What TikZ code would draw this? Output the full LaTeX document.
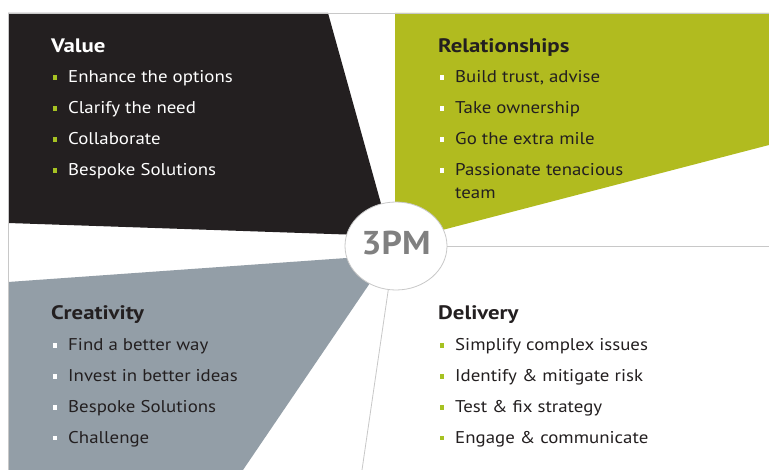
\documentclass[tikz,border=0pt]{standalone}
\usepackage{fontspec}
\setmainfont{PT Sans}
\newfontfamily\itmfont{PT Sans}[FakeStretch=1.11]
\newfontfamily\ttlfont{PT Sans}[FakeStretch=1.17]
\newfontfamily\pmfont{PT Sans}[FakeStretch=1.08]
\usetikzlibrary{shapes.geometric}
\definecolor{qblack}{HTML}{231F20}
\definecolor{qgreen}{HTML}{B1BB1F}
\definecolor{qgray}{HTML}{939EA7}
\definecolor{bgreen}{HTML}{A6C222}
\definecolor{frame}{HTML}{C8C8C8}
\definecolor{pmgray}{HTML}{808080}
\begin{document}
\begin{tikzpicture}[x=1pt,y=-1pt,
  frameline/.style={draw=frame,line width=0.8pt},
  ttl/.style={anchor=base west,inner sep=0,font=\ttlfont\fontsize{19.5}{22}\selectfont\bfseries},
  itm/.style={anchor=base west,inner sep=0,font=\itmfont\fontsize{17}{20}\selectfont},
  bul/.style={rectangle,minimum size=4.8pt,inner sep=0,fill=#1},
  ]
\useasboundingbox (0,0) rectangle (769,470);
\fill[white] (0,0) rectangle (769,470);
% quadrants
\fill[qblack] (8,13) -- (328,13) -- (390,236) -- (8,223) -- cycle;
\fill[qgreen] (395,13) -- (769,13) -- (769,145) -- (400,241) -- (395,241) -- cycle;
\fill[qgray] (8,282) -- (389,255) -- (243,470) -- (8,470) -- cycle;
% frame lines
\coordinate (ftl) at (8,13);
\coordinate (ftr) at (769,13);
\coordinate (fbl) at (8,470);
\coordinate (rend) at (769,246);
\coordinate (bend) at (362,470);
\draw[frameline] (fbl) -- (ftl) -- (ftr);
% centre
\node[ellipse,draw=frame,line width=0.8pt,fill=white,minimum width=102pt,minimum height=88pt,inner sep=0] (c) at (396,246) {};
\draw[frameline] (c.east) -- (rend);
\draw[frameline] (c.-100) -- (bend);
\node[font=\pmfont\fontsize{33}{36}\selectfont\bfseries,text=pmgray,inner sep=0] (pm) at (396,243.5) {3PM};
% Value
\node[ttl,text=white] (vt) at (51,53) {Value};
\node[bul=bgreen] (vb1) at (55,77.5) {};
\node[itm,text=white] (v1) at (68,83) {Enhance the options};
\node[bul=bgreen] (vb2) at (55,108.5) {};
\node[itm,text=white] (v2) at (68,114) {Clarify the need};
\node[bul=bgreen] (vb3) at (55,139.5) {};
\node[itm,text=white] (v3) at (68,145) {Collaborate};
\node[bul=bgreen] (vb4) at (55,170.5) {};
\node[itm,text=white] (v4) at (68,176) {Bespoke Solutions};
% Relationships
\node[ttl,text=qblack] (rt) at (438,53) {Relationships};
\node[bul=white] (rb1) at (442,77.5) {};
\node[itm,text=qblack] (r1) at (455,83) {Build trust, advise};
\node[bul=white] (rb2) at (442,108.5) {};
\node[itm,text=qblack] (r2) at (455,114) {Take ownership};
\node[bul=white] (rb3) at (442,139.5) {};
\node[itm,text=qblack] (r3) at (455,145) {Go the extra mile};
\node[bul=white] (rb4) at (442,170.5) {};
\node[itm,text=qblack] (r4) at (455,176) {Passionate tenacious};
\node[itm,text=qblack] (r5) at (455,199) {team};
% Creativity
\node[ttl,text=qblack] (ct) at (51,320) {Creativity};
\node[bul=white] (cb1) at (55,345.5) {};
\node[itm,text=qblack] (c1) at (68,351) {Find a better way};
\node[bul=white] (cb2) at (55,376.5) {};
\node[itm,text=qblack] (c2) at (68,382) {Invest in better ideas};
\node[bul=white] (cb3) at (55,407.5) {};
\node[itm,text=qblack] (c3) at (68,413) {Bespoke Solutions};
\node[bul=white] (cb4) at (55,438) {};
\node[itm,text=qblack] (c4) at (68,443.5) {Challenge};
% Delivery
\node[ttl,text=qblack] (dt) at (438,320) {Delivery};
\node[bul=bgreen] (db1) at (442,345.5) {};
\node[itm,text=qblack] (d1) at (455,351) {Simplify complex issues};
\node[bul=bgreen] (db2) at (442,376.5) {};
\node[itm,text=qblack] (d2) at (455,382) {Identify \& mitigate risk};
\node[bul=bgreen] (db3) at (442,407.5) {};
\node[itm,text=qblack] (d3) at (455,413) {Test \& fix strategy};
\node[bul=bgreen] (db4) at (442,438) {};
\node[itm,text=qblack] (d4) at (455,443.5) {Engage \& communicate};
\end{tikzpicture}
\end{document}
